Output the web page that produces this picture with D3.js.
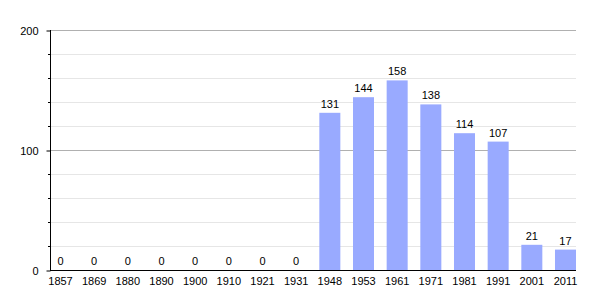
<!DOCTYPE html>
<html><head><meta charset="utf-8">
<script src="https://cdn.jsdelivr.net/npm/d3@7"></script>
<style>body{margin:0;background:#fff}svg{display:block}text{font-family:"Liberation Sans",Arial,sans-serif;fill:#000}</style>
</head><body><svg id="c" width="605" height="300"></svg>
<script>
const years = ["1857","1869","1880","1890","1900","1910","1921","1931","1948","1953","1961","1971","1981","1991","2001","2011"];
const population = [0,0,0,0,0,0,0,0,131,144,158,138,114,107,21,17];
const yTicks = [0,100,200];
const minorTicks = [20,40,60,80,120,140,160,180];

const svg = d3.select("#c");
const mLeft = 50, mRight = 576, mTop = 30, mBottom = 270;
const x = d3.scaleBand().domain(years).range([mLeft, mRight]).paddingInner(0.376).paddingOuter(0);
const y = d3.scaleLinear().domain([0, 200]).range([mBottom, mTop]);

// minor gridlines
svg.append("g").selectAll("line").data(minorTicks).join("line")
  .attr("x1", mLeft).attr("x2", mRight).attr("y1", d => y(d)+0.5).attr("y2", d => y(d)+0.5)
  .attr("stroke", "#e6e6e6").attr("stroke-width", 1);
// major gridlines
svg.append("g").selectAll("line").data(yTicks.filter(d => d > 0)).join("line")
  .attr("x1", mLeft).attr("x2", mRight).attr("y1", d => y(d)+0.5).attr("y2", d => y(d)+0.5)
  .attr("stroke", "#b0b0b0").attr("stroke-width", 1);

// bars
svg.append("g").selectAll("rect").data(population).join("rect")
  .attr("x", (d, i) => x(years[i])).attr("width", x.bandwidth())
  .attr("y", d => y(d)).attr("height", d => mBottom - y(d))
  .attr("fill", "#99aaff");

// value labels
svg.append("g").selectAll("text").data(population).join("text")
  .attr("x", (d, i) => x(years[i]) + x.bandwidth()/2)
  .attr("y", d => y(d) - 5)
  .attr("text-anchor", "middle").attr("font-size", 11)
  .text(d => d);

// y axis
const yAxis = d3.axisLeft(y).tickValues(yTicks).tickSize(4).tickPadding(8).tickFormat(d3.format("d"));
const gy = svg.append("g").attr("transform", `translate(${mLeft+0.5},0.5)`).call(yAxis);
gy.select(".domain").remove();
gy.selectAll(".tick line").attr("stroke", "#000");
gy.selectAll(".tick text").attr("font-size", 11).attr("font-family", '"Liberation Sans",Arial,sans-serif').attr("fill", "#000");
svg.append("g").selectAll("line").data(minorTicks).join("line")
  .attr("x1", mLeft - 2).attr("x2", mLeft).attr("y1", d => y(d)+0.5).attr("y2", d => y(d)+0.5)
  .attr("stroke", "#000");
svg.append("line").attr("x1", mLeft+0.5).attr("x2", mLeft+0.5).attr("y1", mTop).attr("y2", mBottom+1).attr("stroke", "#000");

// x axis
const xAxis = d3.axisBottom(x).tickSize(0).tickPadding(7);
const gx = svg.append("g").attr("transform", `translate(0,${mBottom+0.5})`).call(xAxis);
gx.select(".domain").remove();
gx.selectAll(".tick text").attr("font-size", 11).attr("font-family", '"Liberation Sans",Arial,sans-serif').attr("fill", "#000");
svg.append("line").attr("x1", mLeft).attr("x2", mRight).attr("y1", mBottom+0.5).attr("y2", mBottom+0.5).attr("stroke", "#000");
</script></body></html>
